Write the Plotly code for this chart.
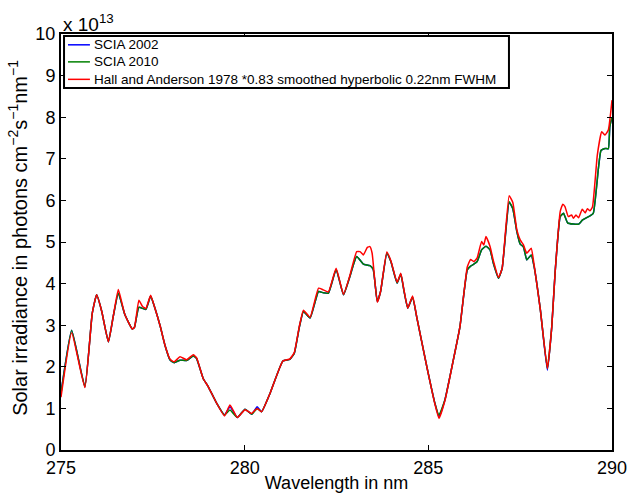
"""Solar irradiance 275-290 nm: SCIA 2002 / 2010 vs Hall and Anderson 1978."""

import plotly.graph_objects as go

# SCIA wavelength grid (nm) and irradiance (x 1e13 photons cm-2 s-1 nm-1)
wl_scia = [
    275.00, 275.29, 275.65, 275.85, 275.97, 276.11, 276.29, 276.42, 276.56, 276.74,
    276.94, 277.00, 277.12, 277.31, 277.44, 277.56, 277.70, 277.83, 277.97, 278.08,
    278.24, 278.42, 278.60, 278.69, 278.87, 279.01, 279.24, 279.45, 279.60, 279.80,
    280.01, 280.19, 280.34, 280.46, 280.69, 281.04, 281.23, 281.35, 281.49, 281.60,
    281.78, 282.01, 282.14, 282.28, 282.49, 282.69, 282.85, 283.05, 283.23, 283.41,
    283.50, 283.61, 283.70, 283.87, 283.98, 284.15, 284.25, 284.34, 284.44, 284.57,
    284.69, 284.96, 285.18, 285.29, 285.45, 285.68, 285.86, 286.06, 286.15, 286.24,
    286.33, 286.45, 286.57, 286.68, 286.77, 286.91, 287.01, 287.20, 287.30, 287.41,
    287.50, 287.59, 287.68, 287.80, 287.88, 288.05, 288.24, 288.36, 288.45, 288.59,
    288.68, 288.79, 288.95, 289.09, 289.20, 289.40, 289.49, 289.63, 289.70, 289.81,
    289.90, 289.94, 290.00,
]
scia_2010 = [
    1.36, 2.88, 1.52, 3.28, 3.73, 3.33, 2.60, 3.20, 3.77, 3.25,
    2.91, 2.95, 3.43, 3.38, 3.70, 3.40, 2.98, 2.52, 2.16, 2.10,
    2.16, 2.15, 2.26, 2.20, 1.72, 1.52, 1.12, 0.84, 0.96, 0.78,
    0.98, 0.86, 1.00, 0.92, 1.36, 2.14, 2.18, 2.32, 2.96, 3.33,
    3.17, 3.81, 3.78, 3.77, 4.34, 3.73, 4.13, 4.65, 4.47, 4.43,
    4.34, 3.57, 3.81, 4.73, 4.53, 4.01, 4.23, 3.81, 3.41, 3.67,
    3.17, 2.00, 1.12, 0.84, 1.20, 2.16, 2.96, 4.33, 4.42, 4.47,
    4.53, 4.81, 4.90, 4.81, 4.49, 4.13, 4.37, 5.97, 5.80, 5.25,
    4.95, 4.88, 4.57, 4.69, 4.41, 3.37, 1.96, 2.96, 4.25, 5.61,
    5.69, 5.46, 5.43, 5.43, 5.53, 5.63, 5.69, 6.77, 7.20, 7.25,
    7.24, 7.77, 8.00,
]
scia_2002 = [
    1.38, 2.88, 1.52, 3.28, 3.73, 3.33, 2.60, 3.20, 3.77, 3.25,
    2.91, 2.95, 3.43, 3.38, 3.70, 3.40, 2.98, 2.52, 2.16, 2.10,
    2.16, 2.15, 2.26, 2.20, 1.72, 1.52, 1.12, 0.84, 1.04, 0.78,
    0.98, 0.86, 1.04, 0.92, 1.36, 2.14, 2.18, 2.32, 2.96, 3.33,
    3.17, 3.81, 3.78, 3.77, 4.34, 3.73, 4.13, 4.65, 4.47, 4.43,
    4.34, 3.57, 3.81, 4.73, 4.53, 4.01, 4.23, 3.81, 3.41, 3.67,
    3.17, 2.00, 1.12, 0.80, 1.20, 2.16, 2.96, 4.33, 4.42, 4.47,
    4.53, 4.81, 4.90, 4.81, 4.49, 4.13, 4.37, 5.95, 5.80, 5.25,
    4.95, 4.88, 4.57, 4.69, 4.41, 3.37, 1.92, 2.96, 4.25, 5.61,
    5.69, 5.46, 5.43, 5.43, 5.53, 5.63, 5.69, 6.77, 7.20, 7.25,
    7.24, 7.77, 8.00,
]

# Hall and Anderson 1978 *0.83, smoothed
wl_hall = [
    275.00, 275.29, 275.65, 275.85, 275.97, 276.11, 276.29, 276.42, 276.56, 276.74,
    276.94, 277.00, 277.12, 277.22, 277.31, 277.44, 277.56, 277.70, 277.83, 277.97,
    278.08, 278.24, 278.42, 278.60, 278.69, 278.87, 279.01, 279.24, 279.45, 279.60,
    279.80, 280.01, 280.19, 280.34, 280.46, 280.69, 281.04, 281.23, 281.35, 281.49,
    281.60, 281.78, 282.01, 282.14, 282.28, 282.49, 282.69, 282.85, 283.05, 283.14,
    283.23, 283.34, 283.41, 283.47, 283.61, 283.70, 283.87, 283.98, 284.15, 284.25,
    284.34, 284.44, 284.57, 284.69, 284.96, 285.18, 285.29, 285.45, 285.68, 285.86,
    286.06, 286.15, 286.24, 286.33, 286.45, 286.51, 286.57, 286.68, 286.77, 286.91,
    287.01, 287.20, 287.30, 287.41, 287.50, 287.59, 287.68, 287.80, 287.88, 288.05,
    288.24, 288.36, 288.45, 288.59, 288.66, 288.72, 288.81, 288.90, 288.95, 289.02,
    289.09, 289.19, 289.27, 289.33, 289.40, 289.47, 289.60, 289.72, 289.81, 289.90,
    290.00,
]
hall_1978 = [
    1.27, 2.82, 1.50, 3.28, 3.73, 3.33, 2.60, 3.20, 3.86, 3.25,
    2.91, 2.95, 3.60, 3.45, 3.40, 3.72, 3.40, 2.98, 2.52, 2.18,
    2.12, 2.24, 2.17, 2.29, 2.22, 1.72, 1.52, 1.12, 0.82, 1.08,
    0.78, 0.97, 0.88, 1.00, 0.92, 1.36, 2.14, 2.19, 2.34, 2.98,
    3.36, 3.19, 3.89, 3.85, 3.80, 4.37, 3.74, 4.15, 4.77, 4.77,
    4.69, 4.87, 4.89, 4.73, 3.55, 3.81, 4.76, 4.55, 4.03, 4.25,
    3.83, 3.41, 3.70, 3.17, 2.00, 1.10, 0.76, 1.18, 2.16, 2.96,
    4.40, 4.58, 4.53, 4.62, 5.01, 4.93, 5.13, 4.89, 4.55, 4.15,
    4.37, 6.11, 5.95, 5.29, 5.05, 4.93, 4.73, 4.85, 4.45, 3.37,
    1.96, 2.96, 4.25, 5.73, 5.91, 5.85, 5.61, 5.65, 5.57, 5.65,
    5.58, 5.79, 5.70, 5.80, 5.75, 5.85, 7.09, 7.65, 7.57, 7.69,
    8.41,
]

series_names = [
    "SCIA 2002",
    "SCIA 2010",
    "Hall and Anderson 1978 *0.83 smoothed hyperbolic 0.22nm FWHM",
]
series_colors = ["#0000ff", "#008000", "#ff0000"]

x_ticks = [275, 280, 285, 290]
y_ticks = list(range(0, 11))

FONT = "Liberation Sans, Arial, sans-serif"

fig = go.Figure()
for wl, vals, name, color in zip([wl_scia, wl_scia, wl_hall],
                                 [scia_2002, scia_2010, hall_1978],
                                 series_names, series_colors):
    fig.add_trace(go.Scatter(x=wl, y=vals, mode="lines", name=name, showlegend=False,
                             line=dict(color=color, width=1.5, shape="spline", smoothing=0.4)))

axis_common = dict(
    showgrid=False, zeroline=False, showline=True, linecolor="black", linewidth=2,
    mirror="ticks", ticks="inside", ticklen=5, tickwidth=1, tickcolor="black",
    tickfont=dict(family=FONT, size=18, color="black"), automargin=False,
)
fig.update_xaxes(range=[275, 290], tickvals=x_ticks,
                 title=dict(text="Wavelength in nm",
                            font=dict(family=FONT, size=18, color="black")),
                 **axis_common)
fig.update_yaxes(range=[0, 10], tickvals=y_ticks, **axis_common)

# y-axis title placed by hand, as in the MATLAB figure
fig.add_annotation(text="Solar irradiance in photons cm<sup>−2</sup>s<sup>−1</sup>nm<sup>−1</sup>",
                   xref="paper", yref="paper", x=-0.078, y=0.51, textangle=-90,
                   xanchor="center", yanchor="middle", showarrow=False,
                   font=dict(family=FONT, size=20, color="black"))

fig.add_annotation(text="x 10<sup>13</sup>", xref="paper", yref="paper", x=0.0, y=1.0,
                   xanchor="left", yanchor="bottom", yshift=-3, showarrow=False,
                   font=dict(family=FONT, size=19, color="black"))

# hand-drawn legend box (MATLAB style: short line samples)
fig.add_shape(type="rect", xref="paper", yref="paper", x0=0.0055, x1=0.813, y0=0.870, y1=0.995,
              line=dict(color="black", width=2), fillcolor="white", layer="above")
row_y = [0.974, 0.933, 0.891]
for ry, name, color in zip(row_y, series_names, series_colors):
    fig.add_shape(type="line", xref="paper", yref="paper", x0=0.0127, x1=0.0525, y0=ry, y1=ry,
                  line=dict(color=color, width=1.5), layer="above")
    fig.add_annotation(text=name, xref="paper", yref="paper", x=0.0563, y=ry,
                       xanchor="left", yanchor="middle", showarrow=False,
                       font=dict(family=FONT, size=13.5, color="black"))

fig.update_layout(
    width=630, height=493,
    margin=dict(l=61, r=18, t=34, b=43),
    paper_bgcolor="white", plot_bgcolor="white",
    font=dict(family=FONT, color="black"),
    showlegend=False,
)

# drop the browser's default 8 px body margin so the figure fills the window
fig.write_html("out.html", config={"displayModeBar": False},
               post_script="document.body.style.margin='0px';"
                           "document.body.style.overflow='hidden';")
